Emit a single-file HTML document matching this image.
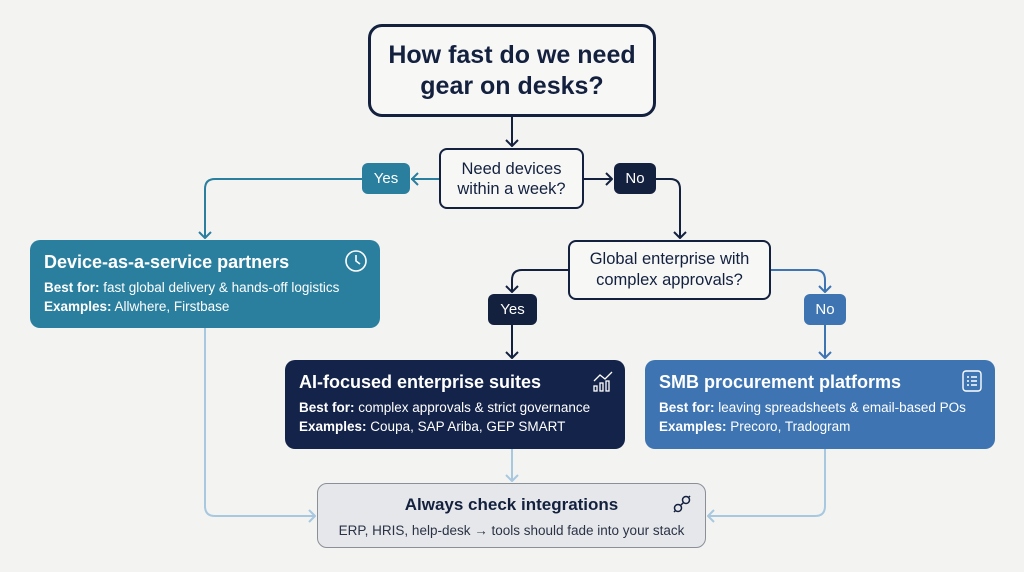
<!DOCTYPE html>
<html><head><meta charset="utf-8"><style>
body{margin:0;width:1024px;height:572px;background:#f3f3f2;font-family:"Liberation Sans",sans-serif;position:relative;overflow:hidden}
.a{position:absolute;box-sizing:border-box}
.c{display:flex;align-items:center;justify-content:center;text-align:center}
.pill{border-radius:6px;color:#fff;font-size:15px}
.card{border-radius:10px;color:#fff;padding:12px 14px}
.card h3{margin:0 0 7px;font-size:18px;font-weight:bold}
.card p{margin:0 0 4px;font-size:13.5px}
</style></head><body>
<svg class="a" style="left:0;top:0" width="1024" height="572">
<g fill="none" stroke-width="2" stroke-linejoin="round">
<path d="M512 117V146M506 140l6 6 6-6" stroke="#13213f"/>
<path d="M439 179H411M418 173l-6 6 6 6" stroke="#2a7f9e"/>
<path d="M362 179H215q-10 0-10 10V238M199 232l6 6 6-6" stroke="#2a7f9e"/>
<path d="M584 179H612M606 173l6 6-6 6" stroke="#13213f"/>
<path d="M656 179H670q10 0 10 10V238M674 232l6 6 6-6" stroke="#13213f"/>
<path d="M568 270H522q-10 0-10 10V292M506 286l6 6 6-6" stroke="#13213f"/>
<path d="M512 325V358M506 352l6 6 6-6" stroke="#13213f"/>
<path d="M771 270H815q10 0 10 10V292M819 286l6 6 6-6" stroke="#3d74b1"/>
<path d="M825 325V358M819 352l6 6 6-6" stroke="#3d74b1"/>
<path d="M205 328V506q0 10 10 10H315M309 510l6 6-6 6" stroke="#a8c8e0"/>
<path d="M512 449V481M506 475l6 6 6-6" stroke="#a8c8e0"/>
<path d="M825 449V506q0 10-10 10H708M714 510l-6 6 6 6" stroke="#a8c8e0"/>
</g></svg>
<div class="a c" style="left:368px;top:24px;width:288px;height:93px;border:3.5px solid #13213f;border-radius:14px;background:#f7f7f6;font-size:25px;font-weight:bold;color:#13213f;line-height:31px">How fast do we need<br>gear on desks?</div>
<div class="a c" style="left:439px;top:148px;width:145px;height:61px;border:2px solid #13213f;border-radius:8px;background:#f7f7f6;font-size:16.5px;color:#13213f;line-height:20px">Need devices<br>within a week?</div>
<div class="a c pill" style="left:362px;top:163px;width:48px;height:31px;background:#2a7f9e">Yes</div>
<div class="a c pill" style="left:614px;top:163px;width:42px;height:31px;background:#13213f">No</div>
<div class="a c" style="left:568px;top:240px;width:203px;height:60px;border:2px solid #13213f;border-radius:8px;background:#f7f7f6;font-size:16.5px;color:#13213f;line-height:21px">Global enterprise with<br>complex approvals?</div>
<div class="a c pill" style="left:488px;top:294px;width:49px;height:31px;background:#13213f">Yes</div>
<div class="a c pill" style="left:804px;top:294px;width:42px;height:31px;background:#3d74b1">No</div>
<div class="a card" style="left:30px;top:240px;width:350px;height:88px;background:#2a7f9e"><h3>Device-as-a-service partners</h3><p><b>Best for:</b> fast global delivery &amp; hands-off logistics</p><p><b>Examples:</b> Allwhere, Firstbase</p>
<svg class="a" style="right:12px;top:9px" width="24" height="24"><circle cx="12" cy="12" r="10" fill="none" stroke="#fff" stroke-width="1.6"/><path d="M12 6v6l4 3" fill="none" stroke="#fff" stroke-width="1.6"/></svg></div>
<div class="a card" style="left:285px;top:360px;width:340px;height:89px;background:#14234a"><h3>AI-focused enterprise suites</h3><p><b>Best for:</b> complex approvals &amp; strict governance</p><p><b>Examples:</b> Coupa, SAP Ariba, GEP SMART</p>
<svg class="a" style="right:10px;top:9px" width="24" height="24" fill="none" stroke="#fff" stroke-width="1.3"><path d="M3 12l6-6 5 4 7-7"/><rect x="3" y="17" width="3" height="5"/><rect x="9" y="14" width="3" height="8"/><rect x="15" y="12" width="3" height="10"/></svg></div>
<div class="a card" style="left:645px;top:360px;width:350px;height:89px;background:#3d74b1"><h3>SMB procurement platforms</h3><p><b>Best for:</b> leaving spreadsheets &amp; email-based POs</p><p><b>Examples:</b> Precoro, Tradogram</p>
<svg class="a" style="right:12px;top:9px" width="22" height="24" fill="none" stroke="#fff" stroke-width="1.4"><rect x="2" y="2" width="18" height="20" rx="3"/><path d="M6 8h2M10 8h6M6 12h2M10 12h6M6 16h2M10 16h6"/></svg></div>
<div class="a" style="left:317px;top:483px;width:389px;height:65px;border:1.5px solid #8a8f98;border-radius:10px;background:#e6e7ea;text-align:center;color:#13213f">
<div style="font-size:17px;font-weight:bold;margin-top:11px">Always check integrations</div>
<div style="font-size:13.5px;margin-top:8px;color:#2a3346">ERP, HRIS, help-desk → tools should fade into your stack</div>
<svg class="a" style="right:12px;top:9px" width="22" height="22" fill="none" stroke="#13213f" stroke-width="1.5"><circle cx="7" cy="15" r="3.5"/><circle cx="15" cy="7" r="3.5"/><path d="M9.5 12.5l3-3M3 19l1.5-1.5M19 3l-1.5 1.5"/></svg></div>
</body></html>
